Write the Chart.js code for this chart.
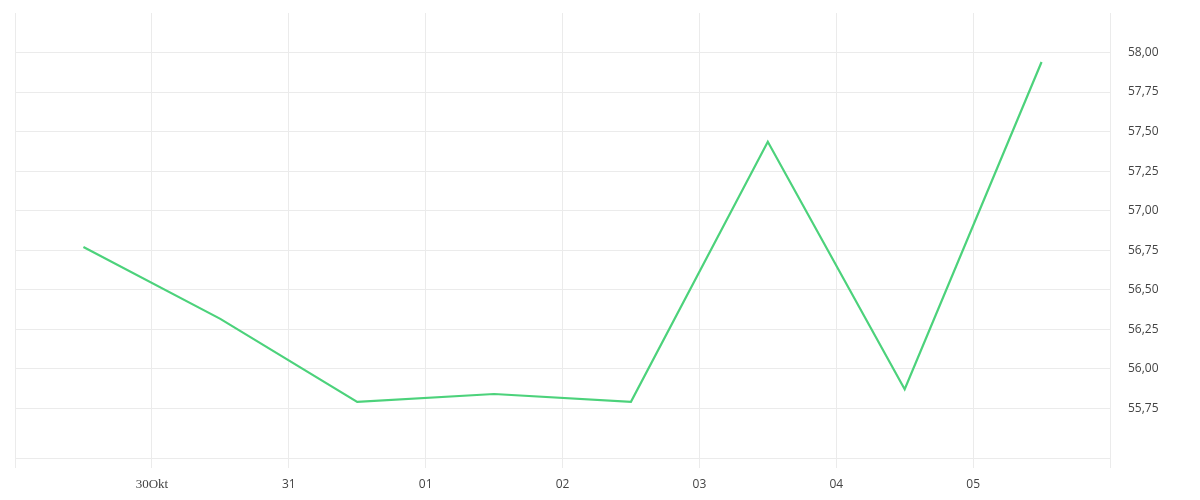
<!DOCTYPE html>
<html>
<head>
<meta charset="utf-8">
<script src="https://cdn.jsdelivr.net/npm/chart.js@4.4.0/dist/chart.umd.min.js"></script>
<style>
html,body{margin:0;padding:0;background:#fff;}
#wrap{width:1200px;height:500px;}
</style>
</head>
<body>
<div id="wrap"><canvas id="c" width="1200" height="500"></canvas></div>
<script>
// Data: one value per day, sampled at midday
const days = ['29.10', '30.10', '31.10', '01.11', '02.11', '03.11', '04.11', '05.11'];
const values = [56.77, 56.315, 55.79, 55.84, 55.79, 57.435, 55.87, 57.94];
// Tick labels at each midnight boundary (0 = start of 29 Oct ... 8 = start of 6 Nov)
const xTickLabels = ['', '30Okt', '31', '01', '02', '03', '04', '05', ''];
const yTicks = [55.75, 56.00, 56.25, 56.50, 56.75, 57.00, 57.25, 57.50, 57.75, 58.00];
const yMin = 55.435, yMax = 58.25;

const points = values.map((v, i) => ({ x: i + 0.5, y: v }));
const gridColor = '#ebebeb';

new Chart(document.getElementById('c'), {
  type: 'line',
  data: {
    datasets: [{
      label: 'Kurs',
      data: points,
      borderColor: '#4cd27b',
      borderWidth: 2.2,
      pointRadius: 0,
      pointHoverRadius: 0,
      tension: 0,
      fill: false
    }]
  },
  options: {
    responsive: false,
    animation: false,
    plugins: { legend: { display: false }, tooltip: { enabled: false } },
    layout: { padding: { top: 13, left: 15, right: 0, bottom: 0 } },
    scales: {
      x: {
        type: 'linear',
        min: 0,
        max: days.length,
        afterBuildTicks: (s) => { s.ticks = xTickLabels.map((_, i) => ({ value: i })); },
        afterFit: (s) => { s.height = 42; s.paddingLeft = 0; s.paddingRight = 0; },
        grid: { color: gridColor, lineWidth: 1, drawTicks: true, tickLength: 10, tickColor: gridColor },
        border: { display: true, color: gridColor },
        ticks: {
          autoSkip: false,
          maxRotation: 0,
          padding: 9,
          color: '#444',
          font: (ctx) => {
            const lbl = xTickLabels[ctx.index] || '';
            return /[A-Za-z]/.test(lbl)
              ? { family: 'Liberation Serif', size: 13 }
              : { family: 'Open Sans', size: 12 };
          },
          callback: (v, i) => xTickLabels[i]
        }
      },
      y: {
        position: 'right',
        min: yMin,
        max: yMax,
        afterBuildTicks: (s) => { s.ticks = yTicks.map(v => ({ value: v })); },
        afterFit: (s) => { s.width = 90; s.paddingTop = 0; s.paddingBottom = 0; },
        grid: { color: gridColor, lineWidth: 1, drawTicks: false },
        border: { display: true, color: gridColor },
        ticks: {
          padding: 18,
          color: '#444',
          font: { family: 'Open Sans', size: 12 },
          callback: (v) => v.toFixed(2).replace('.', ',')
        }
      }
    }
  }
});
</script>
</body>
</html>
